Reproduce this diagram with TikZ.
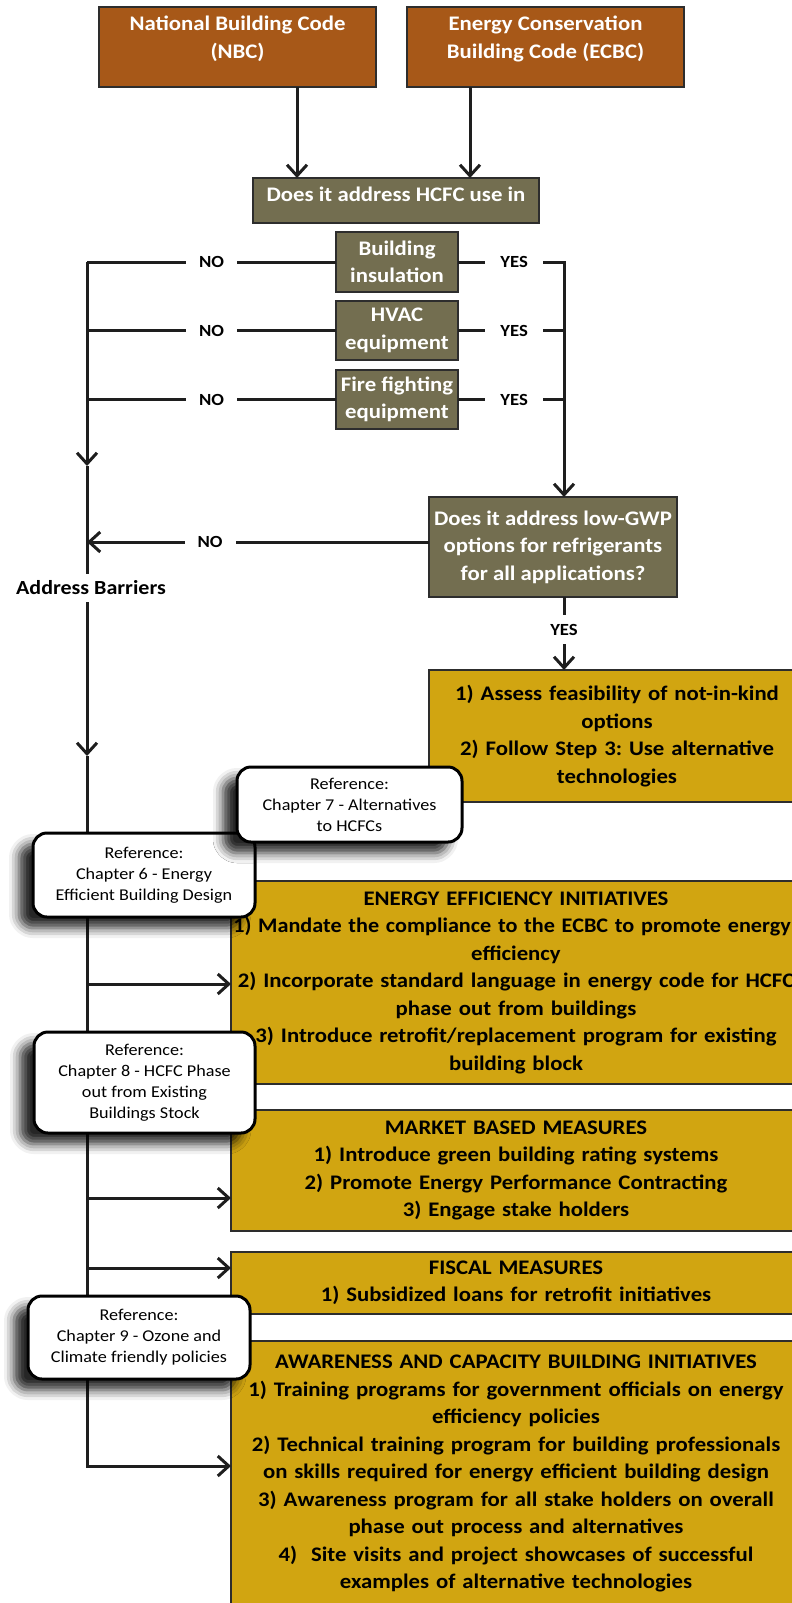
\documentclass[tikz,border=0pt]{standalone}
\usepackage{fontspec}
\usepackage{graphicx}
\setmainfont{Carlito}[FakeStretch=1.1]
\usetikzlibrary{arrows.meta,shadows.blur}
\definecolor{brownbox}{RGB}{167,88,24}
\definecolor{olivebox}{RGB}{115,110,80}
\definecolor{goldbox}{RGB}{209,165,17}
\definecolor{edgec}{RGB}{45,45,45}
\definecolor{linec}{RGB}{30,30,30}
\frenchspacing
\begin{document}
\begin{tikzpicture}[x=1pt,y=-1pt,
  every node/.style={inner sep=0pt, outer sep=0pt},
  bfont/.style={font=\fontsize{20.7}{27.5}\selectfont\bfseries\frenchspacing},
  codebox/.style={draw=edgec, line width=1.6pt, fill=brownbox},
  wtext/.style={bfont, text=white, align=center},
  qbox/.style={draw=edgec, line width=1.6pt, fill=olivebox, bfont, text=white, align=center},
  goldb/.style={draw=edgec, line width=1.6pt, fill=goldbox, bfont, text=black, align=center},
  refbox/.style={draw=black, line width=3pt, fill=white, rounded corners=14pt,
    font=\fontsize{16.5}{21}\selectfont, align=center,
    blur shadow={shadow xshift=-14pt, shadow yshift=-11pt, shadow blur radius=10pt, shadow opacity=85}},
  lab/.style={fill=white, font=\fontsize{17}{20}\selectfont\bfseries, inner xsep=13pt, inner ysep=4pt},
  ylab/.style={lab, inner xsep=15pt},
  vlab/.style={fill=white, font=\fontsize{17}{20}\selectfont\bfseries, inner xsep=3pt, inner ysep=9pt},
  ablab/.style={fill=white, font=\fontsize{20}{24}\selectfont\bfseries, inner xsep=2pt, inner ysep=7pt},
  conn/.style={draw=linec, line width=3pt},
  arr/.style={conn, -{Straight Barb[length=11pt,width=20pt]}},
]
\useasboundingbox (0,0) rectangle (792,1603);

% code boxes
\node[codebox, minimum width=277, minimum height=80] (nbc) at (237.5,47) {};
\node[wtext] (nbct) at ([yshift=8pt]nbc.center) {National Building Code\\(NBC)};
\node[codebox, minimum width=277, minimum height=80] (ecbc) at (545.5,47) {};
\node[wtext] (ecbct) at ([yshift=8pt]ecbc.center) {Energy Conservation\\Building Code (ECBC)};

% question boxes
\node[qbox, minimum width=286, minimum height=45] (q1) at (396,200.5) {};
\node[wtext] (q1t) at ([yshift=6.5pt]q1.center) {Does it address HCFC use in};
\node[qbox, minimum width=122, minimum height=60] (bi) at (397,262) {Building\\insulation};
\node[qbox, minimum width=122, minimum height=59] (hv) at (397,330.5) {HVAC\\equipment};
\node[qbox, minimum width=122, minimum height=59] (ff) at (397,399.5) {Fire fighting\\equipment};
\node[qbox, minimum width=248, minimum height=100] (gwp) at (553,547) {Does it address low-GWP\\options for refrigerants\\for all applications?};

% gold boxes
\node[goldb, minimum width=376, minimum height=132, text width=366] (as) at (617,736)
  {1) Assess feasibility of not-in-kind\\options\\2) Follow Step 3: Use alternative\\technologies};
\node[goldb, minimum width=570, minimum height=203, text width=560] (ee) at (516,982.5)
  {ENERGY EFFICIENCY INITIATIVES\\\makebox[560pt]{\hspace*{-8pt}\scalebox{0.975}[1]{1) Mandate the compliance to the ECBC to promote energy}}\\efficiency\\\makebox[560pt]{2) Incorporate standard language in energy code for HCFC}\\phase out from buildings\\\makebox[560pt]{3) Introduce retrofit/replacement program for existing}\\building block};
\node[goldb, minimum width=570, minimum height=121, text width=560] (mk) at (516,1170.5)
  {MARKET BASED MEASURES\\1) Introduce green building rating systems\\2) Promote Energy Performance Contracting\\3) Engage stake holders};
\node[goldb, minimum width=570, minimum height=62, text width=560] (fi) at (516,1283)
  {FISCAL MEASURES\\1) Subsidized loans for retrofit initiatives};
\node[goldb, minimum width=570, minimum height=265, text width=560] (aw) at (516,1473.5)
  {AWARENESS AND CAPACITY BUILDING INITIATIVES\\\makebox[560pt]{1) Training programs for government officials on energy}\\efficiency policies\\\makebox[560pt]{2) Technical training program for building professionals}\\\makebox[560pt]{on skills required for energy efficient building design}\\3) Awareness program for all stake holders on overall\\phase out process and alternatives\\4)~ Site visits and project showcases of successful\\examples of alternative technologies};

% coordinates
\coordinate (xa) at (297,0);
\coordinate (xb) at (470,0);
\coordinate (l1) at (87,262);
\coordinate (r1) at (564,262);
\coordinate (m1) at (87,466);
\coordinate (m2) at (87,756);
\coordinate (lb) at (87,1466);
\coordinate (b1) at (87,984);
\coordinate (b2) at (87,1198);
\coordinate (b3) at (87,1268);
\coordinate (gw) at ([yshift=5pt]gwp.west);

% connectors
\draw[arr] (nbc.south -| xa) -- (q1.north -| xa);
\draw[arr] (ecbc.south -| xb) -- (q1.north -| xb);

\draw[conn] (bi.west) -- node[lab] (no1) {NO} (l1);
\draw[conn] (hv.west) -- node[lab] (no2) {NO} (hv.west -| l1);
\draw[conn] (ff.west) -- node[lab] (no3) {NO} (ff.west -| l1);

\draw[arr] (bi.east) -- node[ylab, pos=0.53] (yes1) {YES} (r1) -- (gwp.north -| r1);
\draw[conn] (hv.east) -- node[ylab, pos=0.53] (yes2) {YES} (hv.east -| r1);
\draw[conn] (ff.east) -- node[ylab, pos=0.53] (yes3) {YES} (ff.east -| r1);

\draw[arr] (gw) -- node[lab, pos=0.64] (no4) {NO} (gw -| l1);
\draw[arr] (gwp.south -| r1) -- node[vlab, pos=0.45] (yes4) {YES} (as.north -| r1);

\draw[arr] (l1) -- (m1);
\draw[arr] (m1) -- node[ablab, pos=0.42, xshift=4pt] (ab) {Address Barriers} (m2);
\draw[arr] (m2) -- (lb) -- (lb -| aw.west);
\draw[arr] (b1) -- (b1 -| ee.west);
\draw[arr] (b2) -- (b2 -| mk.west);
\draw[arr] (b3) -- (b3 -| fi.west);

% reference boxes
\node[refbox, minimum width=222, minimum height=84] (r6) at (144,875) {Reference:\\Chapter 6 - Energy\\Efficient Building Design};
\node[refbox, minimum width=225, minimum height=75] (r7) at (349.5,804.5) {Reference:\\Chapter 7 - Alternatives\\to HCFCs};
\node[refbox, minimum width=221, minimum height=101] (r8) at (144.5,1082.5) {Reference:\\Chapter 8 - HCFC Phase\\out from Existing\\Buildings Stock};
\node[refbox, minimum width=222, minimum height=83] (r9) at (139,1337.5) {Reference:\\Chapter 9 - Ozone and\\Climate friendly policies};
\end{tikzpicture}
\end{document}
